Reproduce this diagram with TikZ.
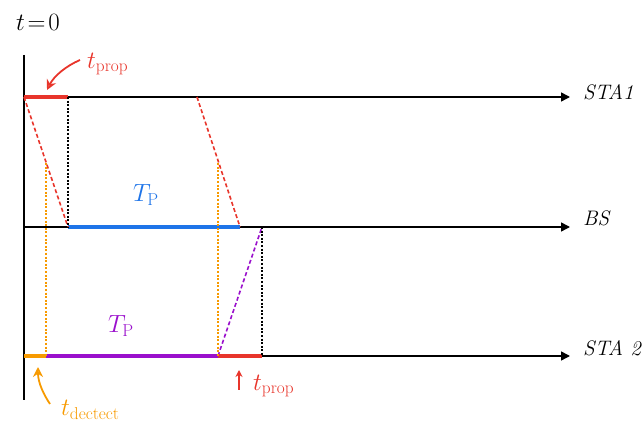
\documentclass[tikz,border=0pt]{standalone}
\usetikzlibrary{arrows.meta}
\definecolor{exred}{HTML}{E8352B}
\definecolor{exblue}{HTML}{1E74E8}
\definecolor{expurple}{HTML}{9A10CC}
\definecolor{exorange}{HTML}{F79A00}
\begin{document}
\begin{tikzpicture}[x=1pt,y=-1pt,
  axis/.style={line width=1.5pt,black},
  timeline/.style={line width=1.5pt,black,-{Triangle[length=9pt,width=9pt]}},
  seg/.style={line width=3.6pt},
  ddash/.style={line width=1.6pt,dash pattern=on 4pt off 2.5pt},
  dotv/.style={line width=1.4pt,dash pattern=on 2pt off 1.6pt},
  lab/.style={inner sep=1pt,font=\fontsize{21}{23}\selectfont},
  big/.style={inner sep=1pt,font=\fontsize{25}{27}\selectfont},
  ann/.style={-{Stealth[length=10pt,width=10pt,open]},line width=1.8pt}]
\useasboundingbox (0,0) rectangle (643,430);
% coordinates
\coordinate (top) at (24,55);
\coordinate (bot) at (24,400);
\coordinate (s1a) at (24,97);
\coordinate (s1b) at (68,97);
\coordinate (s1c) at (197,97);
\coordinate (s1e) at (570,97);
\coordinate (bsa) at (24,227);
\coordinate (bsb) at (68,227);
\coordinate (bsc) at (240,227);
\coordinate (bsd) at (262,227);
\coordinate (bse) at (570,227);
\coordinate (s2a) at (24,356);
\coordinate (s2b) at (46,356);
\coordinate (s2c) at (218,356);
\coordinate (s2d) at (262,356);
\coordinate (s2e) at (570,356);
\coordinate (o1) at (46,163);
\coordinate (o2) at (218,163);
% axes
\draw[axis] (top) -- (bot);
\draw[timeline] (s1a) -- (s1e);
\draw[timeline] (bsa) -- (bse);
\draw[timeline] (s2a) -- (s2e);
\node[lab,anchor=west] (lsta1) at (582,92) {\itshape STA1};
\node[lab,anchor=west] (lbs) at (582,218) {\itshape BS};
\node[lab,anchor=west] (lsta2) at (582,348) {\itshape STA 2};
% segments
\draw[seg,exred] (s1a) -- (s1b);
\draw[seg,exblue] (bsb) -- (bsc);
\draw[seg,exorange] (s2a) -- (s2b);
\draw[seg,expurple] (s2b) -- (s2c);
\draw[seg,exred] (s2c) -- (s2d);
% dashed propagation lines
\draw[ddash,exred] (s1a) -- (bsb);
\draw[ddash,exred] (s1c) -- (bsc);
\draw[ddash,expurple] (s2c) -- (bsd);
% dotted verticals
\draw[dotv,black] (s1b) -- (bsb);
\draw[dotv,black] (bsd) -- (s2d);
\draw[dotv,exorange] (o1) -- (s2b);
\draw[dotv,exorange] (o2) -- (s2c);
% labels
\node[big] (tzero) at (38,22) {$t\!=\!0$};
\node[big,exblue] (tp1) at (146,195) {$T_{\mathrm{P}}$};
\node[big,expurple] (tp2) at (121,326) {$T_{\mathrm{P}}$};
\node[big,exred,anchor=west] (tprop1) at (86,64) {$t_{\mathrm{prop}}$};
\node[big,exred,anchor=west] (tprop2) at (252,386) {$t_{\mathrm{prop}}$};
\node[big,exorange,anchor=west] (tdet) at (60,410) {$t_{\mathrm{dectect}}$};
\coordinate (a1s) at (80,60);
\coordinate (a1end) at (47,90);
\coordinate (a2start) at (239,390);
\coordinate (a2end) at (239,370);
\coordinate (a3s) at (50,404);
\coordinate (a3end) at (38,367);
\draw[ann,exred] (a1s) .. controls (66,66) and (54,76) .. (a1end);
\draw[ann,exred,-{Stealth[length=7pt,width=7pt,open]}] (a2start) -- (a2end);
\draw[ann,exorange] (a3s) .. controls (44,395) and (38,383) .. (a3end);
\end{tikzpicture}
\end{document}
